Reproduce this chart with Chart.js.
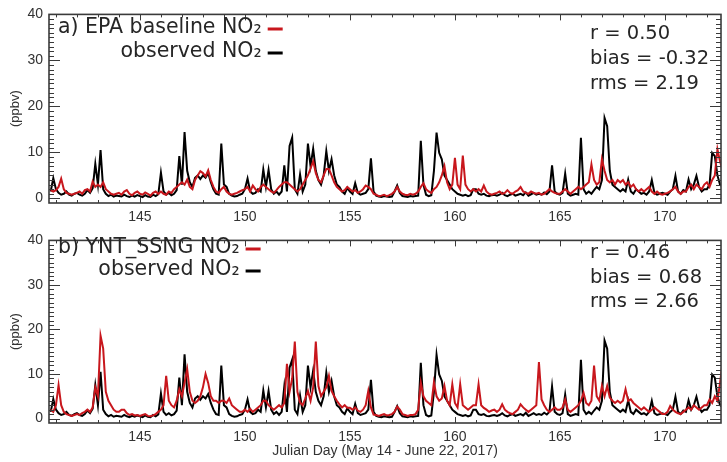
<!DOCTYPE html>
<html><head><meta charset="utf-8">
<script src="https://cdn.jsdelivr.net/npm/chart.js@4"></script>
<style>
html,body{margin:0;padding:0;background:#fff;}
#wrap{position:relative;width:727px;height:462px;overflow:hidden;background:#fff;}
.panel{position:absolute;left:0;width:727px;}
#pa{top:0;height:236px;}
#pb{top:226px;height:236px;}
</style></head><body>
<div id="wrap">
<div class="panel" id="pa"><canvas id="ca"></canvas></div>
<div class="panel" id="pb"><canvas id="cb"></canvas></div>
</div>
<script>
// time grid: Julian day, 3-hourly samples
const startDay = 140.75;
const stepDay = 0.125;
const xRange = [140.67, 172.67];
const xTicks = [145, 150, 155, 160, 165, 170];
const yTicks = [0, 10, 20, 30, 40];

// observed NO2 (ppbv)
const observed = [
1.5, 4.4,
2.0, 1.2, 0.8, 1.0, 1.5, 0.8, 0.6, 1.0,
1.2, 0.8, 0.6, 1.0, 1.8, 1.2, 2.2, 7.5,
3.0, 10.5, 2.0, 1.0, 0.5, 0.8, 0.4, 0.6,
0.5, 0.4, 0.8, 0.5, 0.3, 0.6, 0.4, 0.7,
0.5, 0.3, 0.7, 0.4, 0.3, 0.8, 0.5, 0.9,
5.6, 1.5, 0.8, 1.2, 0.7, 1.0, 1.8, 9.2,
3.0, 14.4, 6.0, 3.5, 2.5, 4.5, 5.0, 4.2,
5.0, 4.5, 5.5, 3.5, 2.0, 1.0, 0.8, 11.9,
3.0, 2.5, 1.0, 0.6, 0.4, 0.5, 0.8, 1.0,
2.0, 4.3, 1.5, 1.0, 1.2, 2.0, 1.5, 6.3,
2.5, 6.2, 2.0, 1.0, 1.5, 0.8, 1.5, 7.2,
1.5, 11.4, 13.2, 2.0, 1.0, 5.2, 1.5, 3.0,
11.9, 7.0, 10.8, 6.0, 4.0, 3.0, 5.0, 10.3,
6.0, 8.5, 5.0, 3.0, 2.5, 1.5, 1.0, 2.3,
1.5, 1.0, 3.3, 1.2, 0.8, 1.0, 1.2, 2.0,
8.7, 1.5, 0.6, 0.4, 0.3, 0.5, 0.4, 0.3,
0.4, 1.5, 2.8, 1.2, 0.5, 0.4, 0.3, 0.5,
0.4, 0.5, 0.6, 12.5, 3.0, 0.8, 0.5, 0.7,
6.0, 14.3, 9.9, 8.5, 5.0, 4.0, 3.0, 2.0,
1.5, 1.0, 0.8, 0.6, 0.8, 0.5, 0.7, 2.0,
2.0, 1.0, 0.8, 1.0, 0.6, 0.5, 0.7, 0.8,
0.6, 0.8, 1.2, 0.7, 0.5, 0.8, 1.0, 0.6,
0.8, 1.0, 0.7, 1.3, 0.6, 0.9, 1.2, 0.8,
1.0, 0.8, 1.3, 0.9, 1.5, 7.2, 1.5, 1.0,
0.8, 1.2, 5.4, 1.0, 0.6, 0.8, 1.0, 0.8,
13.2, 2.0, 1.0, 1.5, 1.0, 1.8, 2.5, 2.0,
4.0, 17.5, 15.7, 6.0, 3.0, 2.5, 2.0, 1.5,
2.0, 1.5, 4.1, 1.5, 1.0, 2.0, 1.5, 1.0,
1.2, 0.8, 1.5, 4.0, 1.2, 0.8, 1.0, 1.2,
1.0, 0.8, 1.5, 2.0, 4.9, 1.5, 1.0, 1.8,
1.5, 4.1, 2.0, 3.0, 4.9, 2.5, 1.5, 2.0,
2.0, 3.0, 9.9, 9.2, 5.0, 3.0, 2.5
];

// EPA baseline model NO2 (ppbv)
const epaBaseline = [
1.8, 1.5,
1.8, 2.5, 4.3, 2.0, 1.2, 1.0, 0.8, 1.0,
1.2, 1.5, 1.0, 1.8, 2.0, 1.5, 3.7, 2.5,
3.0, 2.5, 3.5, 2.0, 1.5, 1.0, 0.8, 1.0,
1.2, 0.8, 1.5, 1.8, 1.0, 0.7, 1.2, 1.5,
1.0, 0.8, 1.3, 1.0, 0.6, 1.2, 1.5, 1.0,
1.5, 1.0, 0.8, 1.5, 1.2, 2.0, 2.5, 3.0,
3.5, 3.0, 4.1, 2.5, 2.0, 4.0, 5.0, 5.9,
5.5, 4.8, 6.1, 4.0, 2.5, 1.5, 1.2, 2.0,
2.5, 1.5, 1.0, 0.8, 1.0, 1.2, 1.5, 1.8,
2.0, 2.5, 1.5, 2.8, 2.0, 1.5, 2.5, 3.0,
2.5, 2.0, 1.5, 1.2, 1.8, 2.5, 3.0, 3.5,
3.5, 3.0, 2.5, 2.0, 1.5, 2.0, 3.0, 4.0,
5.0, 6.5, 8.1, 5.5, 4.0, 3.5, 5.0, 6.4,
6.4, 5.0, 3.5, 2.5, 2.0, 1.5, 1.8, 2.5,
2.0, 1.5, 1.8, 1.2, 1.5, 2.0, 2.8, 2.5,
2.0, 1.0, 0.8, 0.5, 0.6, 0.8, 0.5, 0.7,
1.0, 1.5, 2.5, 1.5, 1.0, 0.8, 0.7, 1.0,
0.8, 1.0, 1.5, 2.5, 3.3, 2.0, 1.5, 1.2,
2.0, 2.5, 3.5, 5.0, 7.0, 3.5, 2.0, 3.0,
8.8, 3.0, 2.0, 9.3, 3.0, 2.0, 1.5, 2.0,
1.5, 2.0, 1.5, 2.8, 1.5, 1.0, 0.8, 1.0,
1.2, 1.5, 1.0, 1.2, 1.8, 1.2, 1.0, 1.5,
1.8, 2.5, 1.5, 1.2, 1.0, 1.5, 1.2, 1.0,
1.2, 0.8, 1.0, 1.5, 2.0, 1.5, 1.2, 1.0,
1.0, 1.5, 2.0, 1.5, 1.0, 1.5, 2.0, 2.5,
2.0, 2.5, 3.0, 3.5, 7.4, 4.0, 3.0, 3.5,
8.5, 6.0, 4.0, 3.5, 4.0, 3.0, 4.0, 3.5,
4.0, 3.0, 3.5, 2.5, 3.0, 2.0, 1.5, 2.0,
1.5, 2.0, 2.5, 1.5, 1.0, 1.5, 1.0, 0.8,
1.0, 1.2, 1.5, 2.0, 2.5, 1.5, 1.0, 1.5,
1.5, 2.5, 3.0, 2.0, 3.0, 2.5, 2.0, 3.0,
3.5, 2.5, 4.0, 5.0, 10.7, 8.0, 6.0
];

// YNT_SSNG model NO2 (ppbv)
const yntSsng = [
2.0, 1.5,
3.0, 7.5, 3.0, 1.5, 1.0, 0.8, 0.6, 0.8,
1.0, 0.8, 1.2, 1.5, 2.0, 1.5, 2.5, 7.0,
5.0, 18.6, 15.7, 6.0, 4.0, 3.0, 2.0, 1.5,
1.5, 2.0, 2.0, 1.2, 0.8, 1.0, 0.7, 0.8,
0.6, 0.8, 1.0, 0.6, 0.5, 0.7, 1.0, 1.5,
2.0, 3.0, 9.6, 4.0, 3.0, 2.5, 4.0, 6.6,
5.0, 8.0, 11.1, 6.0, 4.0, 3.5, 4.0, 5.0,
7.0, 10.0, 8.0, 5.0, 4.0, 4.0, 3.5, 4.0,
4.0, 3.5, 4.5, 3.0, 2.5, 2.0, 1.5, 1.5,
2.0, 1.5, 2.2, 1.5, 2.0, 2.5, 3.0, 4.0,
4.0, 3.0, 2.5, 2.0, 2.5, 3.0, 2.5, 3.5,
12.3, 6.0, 9.0, 17.3, 6.0, 3.6, 3.0, 4.5,
6.2, 4.0, 7.0, 17.3, 7.3, 5.0, 6.0, 7.0,
9.6, 6.2, 5.0, 4.0, 3.2, 2.5, 3.0, 2.4,
2.4, 2.0, 2.5, 1.8, 1.5, 2.0, 3.0, 6.2,
2.5, 0.9, 0.8, 0.6, 0.8, 1.0, 0.7, 0.8,
1.0, 1.5, 2.7, 2.0, 1.0, 0.8, 0.6, 0.8,
0.8, 1.0, 2.0, 8.1, 5.0, 4.0, 3.5, 3.0,
8.1, 5.0, 4.0, 4.5, 7.3, 4.0, 3.0, 7.7,
3.5, 2.5, 7.7, 3.0, 2.5, 2.0, 2.5, 3.0,
3.0, 7.7, 3.0, 2.4, 2.0, 1.5, 1.8, 2.0,
1.5, 2.0, 3.2, 2.0, 1.5, 1.2, 1.0, 1.5,
2.0, 3.2, 2.5, 2.0, 1.5, 2.0, 2.5, 3.0,
12.7, 4.3, 3.0, 2.0, 1.5, 2.0, 2.5, 2.0,
2.0, 2.5, 4.3, 2.0, 1.5, 2.0, 2.5, 3.0,
4.0, 5.8, 3.5, 3.0, 4.0, 11.9, 5.0, 4.0,
7.3, 5.0, 7.3, 4.7, 4.0, 3.5, 4.0, 3.5,
4.0, 6.6, 4.0, 4.3, 3.5, 3.0, 2.5, 2.0,
2.5, 2.0, 1.5, 2.0, 2.5, 2.0, 1.5, 1.0,
1.0, 1.5, 2.8, 2.0, 1.5, 1.2, 1.0, 1.5,
2.0, 2.5, 2.0, 3.0, 2.5, 2.0, 2.5, 3.0,
3.0, 4.3, 3.5, 5.0, 4.0, 8.0, 12.7
];

const statsA = ['r = 0.50', 'bias = -0.32', 'rms = 2.19'];
const statsB = ['r = 0.46', 'bias = 0.68', 'rms = 2.66'];

const RED = '#c8171d';
const TXT = '#262626';

function toXY(vals) {
  return vals.map((v, i) => ({ x: startDay + i * stepDay, y: v }));
}

const frameTicks = {
  id: 'frameTicks',
  afterDatasetsDraw(chart) {
    const { ctx, chartArea: a, scales: { x, y } } = chart;
    ctx.save();
    ctx.strokeStyle = '#3a3a3a';
    ctx.lineWidth = 1;
    const seg = (x1, y1, x2, y2) => { ctx.beginPath(); ctx.moveTo(x1, y1); ctx.lineTo(x2, y2); ctx.stroke(); };
    for (let v = 0; v <= y.max; v++) {
      const py = Math.round(y.getPixelForValue(v)) + 0.5;
      const len = v % 10 === 0 ? 11 : 5;
      seg(a.left, py, a.left + len, py);
      seg(a.right, py, a.right - len, py);
    }
    for (let d = Math.ceil(x.min); d <= x.max; d++) {
      const px = Math.round(x.getPixelForValue(d)) + 0.5;
      const len = d % 5 === 0 ? 6 : 3;
      seg(px, a.bottom, px, a.bottom - len);
      seg(px, a.top, px, a.top + len);
    }
    ctx.lineWidth = 1.6;
    ctx.strokeRect(a.left, a.top, a.right - a.left, a.bottom - a.top);
    ctx.restore();
  }
};

const panelText = {
  id: 'panelText',
  afterDraw(chart, args, opts) {
    const { ctx } = chart;
    ctx.save();
    ctx.fillStyle = TXT;
    ctx.font = '20.5px "DejaVu Sans"';
    ctx.textBaseline = 'middle';
    ctx.textAlign = 'left';
    ctx.fillText(opts.line1, opts.lx, opts.ly1);
    const end = opts.lx + ctx.measureText(opts.line1).width;
    ctx.textAlign = 'right';
    ctx.fillText(opts.line2, end, opts.ly2);
    ctx.lineWidth = 3;
    ctx.strokeStyle = RED;
    ctx.beginPath(); ctx.moveTo(end + 6, opts.ly1 + 1); ctx.lineTo(end + 21, opts.ly1 + 1); ctx.stroke();
    ctx.strokeStyle = '#000';
    ctx.beginPath(); ctx.moveTo(end + 6, opts.ly2 + 1); ctx.lineTo(end + 21, opts.ly2 + 1); ctx.stroke();
    ctx.textAlign = 'left';
    ctx.font = '19.5px "DejaVu Sans"';
    opts.stats.forEach((s, i) => ctx.fillText(s, opts.sx, opts.sy[i]));
    ctx.restore();
  }
};

function makeChart(id, model, cfg) {
  return new Chart(document.getElementById(id), {
    type: 'line',
    data: {
      datasets: [
        { label: cfg.modelLabel, data: toXY(model), borderColor: RED, borderWidth: 2, pointRadius: 0, tension: 0 },
        { label: 'observed NO₂', data: toXY(observed), borderColor: '#000', borderWidth: 2, pointRadius: 0, tension: 0 }
      ]
    },
    options: {
      responsive: true,
      maintainAspectRatio: false,
      animation: false,
      events: [],
      layout: { padding: { top: cfg.padTop, right: 6, left: 0, bottom: 0 } },
      plugins: {
        legend: { display: false },
        tooltip: { enabled: false },
        panelText: cfg.text
      },
      scales: {
        x: {
          type: 'linear',
          min: xRange[0], max: xRange[1],
          grid: { display: false, drawTicks: false },
          border: { display: false },
          afterBuildTicks: s => { s.ticks = xTicks.map(v => ({ value: v })); },
          afterFit: s => { s.height = cfg.xh; },
          ticks: { font: { family: '"Liberation Sans"', size: 14 }, color: '#333', padding: 6, maxRotation: 0 },
          title: cfg.xTitle
        },
        y: {
          min: -1, max: 40,
          grid: { display: false, drawTicks: false },
          border: { display: false },
          afterBuildTicks: s => { s.ticks = yTicks.map(v => ({ value: v })); },
          afterFit: s => { s.width = 49; },
          ticks: { font: { family: '"Liberation Sans"', size: 14 }, color: '#333', padding: 6 },
          title: { display: true, text: '(ppbv)', font: { family: '"Liberation Sans"', size: 13 }, color: '#333', padding: { top: 8, bottom: 0 } }
        }
      }
    },
    plugins: [frameTicks, panelText]
  });
}

makeChart('ca', epaBaseline, {
  modelLabel: 'EPA baseline NO₂', padTop: 13, xh: 33,
  xTitle: { display: false },
  text: { line1: 'a) EPA baseline NO₂', line2: 'observed NO₂', lx: 58, ly1: 28, ly2: 52, stats: statsA, sx: 590, sy: [34, 59, 84] }
});
makeChart('cb', yntSsng, {
  modelLabel: 'YNT_SSNG NO₂', padTop: 12, xh: 39,
  xTitle: { display: true, text: 'Julian Day (May 14 - June 22, 2017)', font: { family: '"Liberation Sans"', size: 14 }, color: '#333', padding: { top: 0, bottom: 2 } },
  text: { line1: 'b) YNT_SSNG NO₂', line2: 'observed NO₂', lx: 58, ly1: 22, ly2: 44, stats: statsB, sx: 590, sy: [27, 52, 76] }
});
</script>
</body></html>
